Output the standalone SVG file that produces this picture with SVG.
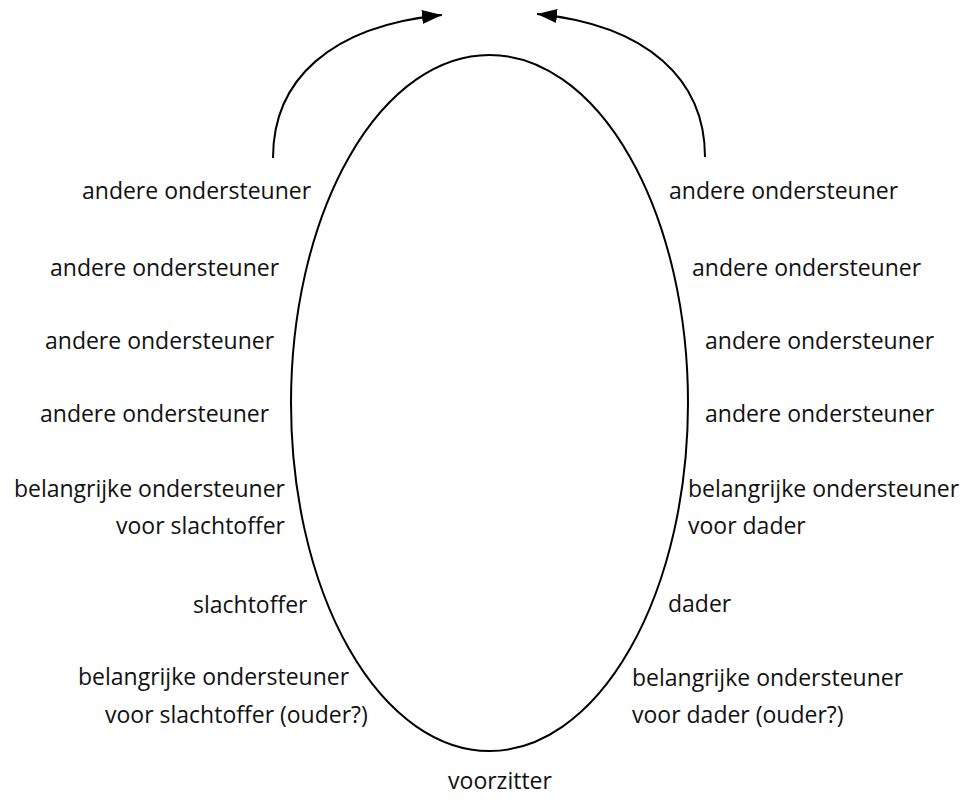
<svg xmlns="http://www.w3.org/2000/svg" width="968" height="800" viewBox="0 0 968 800">
<defs>
<style>
text{font-family:"Open Sans","Liberation Sans",sans-serif;font-size:23px;fill:#111;}
.ln{fill:none;stroke:#000;stroke-width:2;}
</style>
<marker id="ah" markerWidth="20" markerHeight="14" refX="20" refY="7" orient="auto" markerUnits="userSpaceOnUse">
<path d="M0,0 L20,7 L0,14 Z" fill="#000"/>
</marker>
</defs>
<rect width="968" height="800" fill="#fff"/>
<g id="cycle">
<ellipse class="ln" cx="489.5" cy="403" rx="198.5" ry="348"/>
</g>
<g id="connectors">
<path class="ln" d="M273,158 C273,80 330,26 442,15" marker-end="url(#ah)"/>
<path class="ln" d="M705,157 C705,80 648,25 537,14" marker-end="url(#ah)"/>
</g>
<g id="left-1"><text x="82" y="199">andere ondersteuner</text></g>
<g id="left-2"><text x="50" y="276">andere ondersteuner</text></g>
<g id="left-3"><text x="45" y="349">andere ondersteuner</text></g>
<g id="left-4"><text x="40" y="422">andere ondersteuner</text></g>
<g id="left-5"><text x="285" y="497" text-anchor="end">belangrijke ondersteuner</text><text x="285" y="534" text-anchor="end">voor slachtoffer</text></g>
<g id="left-6"><text x="193" y="613">slachtoffer</text></g>
<g id="left-7"><text x="78" y="685">belangrijke ondersteuner</text><text x="105" y="723">voor slachtoffer (ouder?)</text></g>
<g id="right-1"><text x="669" y="199">andere ondersteuner</text></g>
<g id="right-2"><text x="692" y="276">andere ondersteuner</text></g>
<g id="right-3"><text x="705" y="349">andere ondersteuner</text></g>
<g id="right-4"><text x="705" y="422">andere ondersteuner</text></g>
<g id="right-5"><text x="688" y="497">belangrijke ondersteuner</text><text x="688" y="534">voor dader</text></g>
<g id="right-6"><text x="668" y="612">dader</text></g>
<g id="right-7"><text x="632" y="686">belangrijke ondersteuner</text><text x="632" y="723">voor dader (ouder?)</text></g>
<g id="bottom"><text x="500" y="789" text-anchor="middle">voorzitter</text></g>
</svg>
